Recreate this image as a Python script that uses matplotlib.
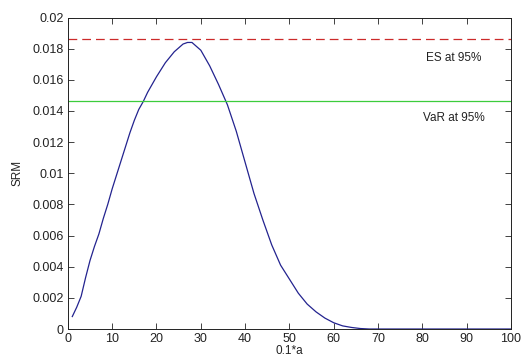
import matplotlib.pyplot as plt

plt.rcParams['font.family'] = ['Liberation Sans', 'DejaVu Sans']

# curve
x_vals = [1, 2, 3, 4, 5, 6, 7, 8, 9, 10, 11, 12, 13, 14, 15, 16, 17, 18, 19, 20,
          22, 24, 26, 27, 28, 30, 32, 34, 36, 38, 40, 42, 44, 46, 48, 50, 52, 54,
          56, 58, 60, 62, 64, 66, 68, 70, 80, 90, 100]
srm = [0.0008, 0.0014, 0.0021, 0.0033, 0.0044, 0.0053, 0.0061, 0.0071, 0.0080,
       0.0090, 0.0099, 0.0108, 0.0117, 0.0126, 0.0134, 0.0141, 0.0146, 0.0152,
       0.0157, 0.0162, 0.0171, 0.0178, 0.0183, 0.0184, 0.0184, 0.0179, 0.0169,
       0.0157, 0.0144, 0.0127, 0.0107, 0.0087, 0.0070, 0.0054, 0.0041, 0.0032,
       0.0023, 0.0016, 0.0011, 0.0007, 0.0004, 0.0002, 0.0001, 0.00003, 0.0,
       0.0, 0.0, 0.0, 0.0]

es_95 = 0.01863
var_95 = 0.01462

fig = plt.figure(figsize=(5.22, 3.58), dpi=100)
ax = fig.add_axes([0.130, 0.081, 0.849, 0.870])

ax.plot(x_vals, srm, color='#23238f', lw=0.9)
ax.axhline(es_95, color='#cc2a2a', lw=0.9, ls=(0, (7, 4)))
ax.axhline(var_95, color='#3ccc3c', lw=0.9)

ax.text(80.8, 0.01743, 'ES at 95%', fontsize=8.5, color='#222222', va='center')
ax.text(80.2, 0.01357, 'VaR at 95%', fontsize=8.5, color='#222222', va='center')

ax.set_xlim(0, 100)
ax.set_ylim(0, 0.02)
ax.set_xticks(range(0, 101, 10))
ax.set_yticks([i * 0.002 for i in range(11)])
ax.set_yticklabels(['0', '0.002', '0.004', '0.006', '0.008', '0.01', '0.012',
                    '0.014', '0.016', '0.018', '0.02'])
ax.tick_params(direction='in', top=True, right=True, labelsize=9,
               colors='#222222', length=4, width=0.6, pad=3)
for s in ax.spines.values():
    s.set_linewidth(0.7)
    s.set_color('#222222')

ax.set_xlabel('0.1*a', fontsize=8.5, color='#222222', labelpad=0)
ax.set_ylabel('SRM', fontsize=8.5, color='#222222', labelpad=6)

fig.savefig('out.png', dpi=100)
